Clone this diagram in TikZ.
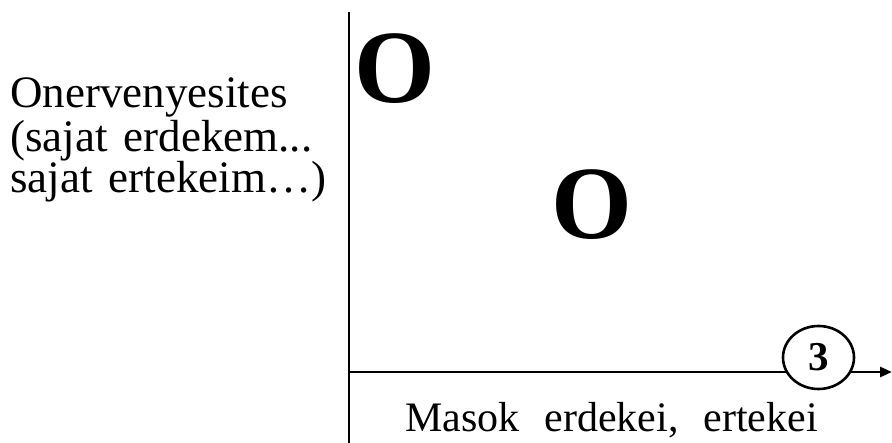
\documentclass[tikz,border=0pt]{standalone}
\usepackage{fontspec}
\setmainfont{Liberation Serif}
\usetikzlibrary{arrows.meta,shapes.geometric}
\begin{document}
\begin{tikzpicture}[x=1pt,y=-1pt,
  lbl/.style={inner sep=0pt, anchor=base west, font=\fontsize{45}{42}\selectfont},
  xlbl/.style={inner sep=0pt, anchor=base west, font=\fontsize{42}{42}\selectfont},
  bigo/.style={inner sep=0pt, font=\fontsize{104}{104}\selectfont\bfseries},
  axis/.style={line width=2.6pt},
  numcirc/.style={ellipse, draw, line width=2.6pt, fill=white, minimum width=71pt, minimum height=63pt, inner sep=0pt, font=\fontsize{41}{41}\selectfont\bfseries}]
\useasboundingbox (0,0) rectangle (892,443);
\coordinate (vtop) at (349,12);
\coordinate (vbot) at (349,443);
\coordinate (hstart) at (348,372);
\coordinate (hend) at (892,372);
\draw[axis] (vtop) -- (vbot);
\draw[axis, -{Triangle[length=12pt,width=10pt]}] (hstart) -- (hend);
\node[numcirc] (three) at (818.5,357.5) {3};
\node[bigo] (o1) at (394.5,68.5) {O};
\node[bigo] (o2) at (592,205) {O};
\node[lbl] (l1) at (10,108) {Onervenyesites};
\node[lbl] (l2) at (10,152) {(sajat\hspace{16pt}erdekem...};
\node[lbl] (l3) at (10,193) {sajat\hspace{16pt}ertekeim…)};
\node[xlbl] (xl) at (405,432) {Masok\hspace{25pt}erdekei,\hspace{25pt}ertekei};
\end{tikzpicture}
\end{document}
